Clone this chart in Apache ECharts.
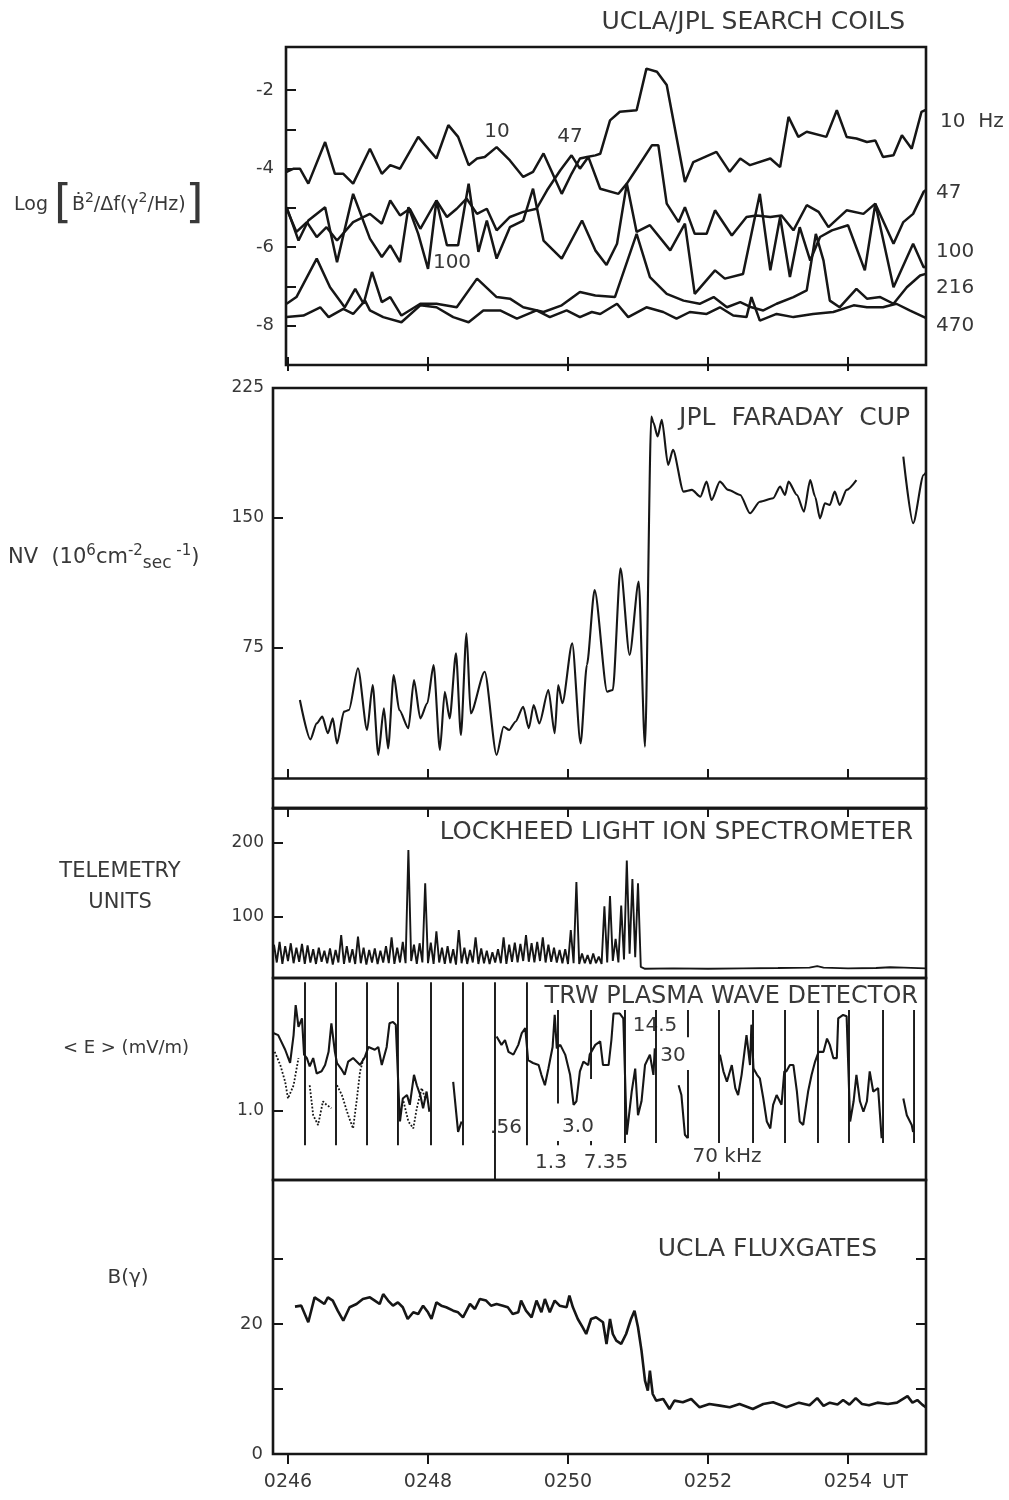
<!DOCTYPE html>
<html>
<head>
<meta charset="utf-8">
<script src="https://cdn.jsdelivr.net/npm/echarts@6.0.0/dist/echarts.min.js"></script>
<style>
  html, body { margin: 0; padding: 0; background: #ffffff; }
  #chart { width: 1009px; height: 1500px; }
</style>
</head>
<body>
<div id="chart"></div>
<script>
// Time is given in minutes after 02:00 UT (46.0 = 0246 UT).
const T_END = 55.114;
const TIME_TICKS = [46, 48, 50, 52, 54];

// ---- UCLA/JPL search coils: log spectral density per channel ----
const coil10 = [
  [45.98,-4.08],[46.08,-4.00],[46.17,-4.00],[46.29,-4.38],[46.53,-3.32],[46.67,-4.13],[46.79,-4.13],[46.93,-4.38],
  [47.17,-3.49],[47.34,-4.13],[47.46,-3.91],[47.60,-4.00],[47.86,-3.19],[48.12,-3.74],[48.29,-2.89],[48.43,-3.19],
  [48.58,-3.91],[48.70,-3.74],[48.81,-3.70],[48.98,-3.45],[49.17,-3.79],[49.36,-4.21],[49.50,-4.08],[49.65,-3.61],
  [49.91,-4.64],[50.05,-4.13],[50.17,-3.74],[50.27,-3.70],[50.39,-3.66],[50.46,-3.62],[50.60,-2.77],[50.74,-2.55],
  [50.98,-2.51],[51.12,-1.45],[51.27,-1.53],[51.41,-1.87],[51.67,-4.34],[51.79,-3.83],[52.12,-3.57],[52.31,-4.08],
  [52.46,-3.74],[52.60,-3.91],[52.89,-3.74],[53.03,-3.96],[53.15,-2.68],[53.29,-3.19],[53.41,-3.06],[53.69,-3.19],
  [53.84,-2.51],[53.98,-3.19],[54.12,-3.23],[54.27,-3.32],[54.39,-3.28],[54.50,-3.70],[54.65,-3.66],[54.77,-3.15],
  [54.91,-3.49],[55.05,-2.55],[55.11,-2.50]
];
const coil47 = [
  [45.98,-5.02],[46.12,-5.61],[46.27,-5.36],[46.41,-5.74],[46.55,-5.49],[46.70,-5.83],[46.93,-5.36],[47.17,-5.15],
  [47.34,-5.40],[47.46,-4.81],[47.60,-5.19],[47.74,-5.02],[47.89,-5.53],[48.12,-4.81],[48.27,-5.23],[48.41,-5.02],
  [48.55,-4.76],[48.70,-5.15],[48.84,-5.02],[48.98,-5.57],[49.17,-5.23],[49.36,-5.10],[49.55,-5.02],[49.70,-4.55],
  [49.89,-4.04],[50.05,-3.66],[50.17,-4.00],[50.29,-3.70],[50.46,-4.51],[50.72,-4.64],[50.84,-4.38],[50.98,-4.00],
  [51.20,-3.40],[51.29,-3.40],[51.41,-4.89],[51.58,-5.36],[51.67,-4.98],[51.81,-5.66],[51.98,-5.66],[52.10,-5.06],
  [52.34,-5.70],[52.55,-5.23],[52.69,-5.19],[52.89,-5.23],[53.05,-5.19],[53.22,-5.57],[53.41,-4.93],[53.58,-5.10],
  [53.72,-5.49],[53.98,-5.06],[54.22,-5.15],[54.39,-4.89],[54.65,-5.91],[54.79,-5.36],[54.93,-5.15],[55.08,-4.59],
  [55.11,-4.55]
];
const coil100 = [
  [45.98,-4.98],[46.15,-5.83],[46.29,-5.32],[46.53,-4.98],[46.70,-6.38],[46.93,-4.64],[47.17,-5.78],[47.34,-6.25],
  [47.46,-5.95],[47.60,-6.38],[47.72,-4.98],[47.86,-5.66],[48.00,-6.55],[48.12,-4.81],[48.27,-5.95],[48.43,-5.95],
  [48.58,-4.38],[48.72,-6.12],[48.84,-5.32],[48.98,-6.29],[49.17,-5.49],[49.36,-5.32],[49.50,-4.51],[49.65,-5.83],
  [49.91,-6.29],[50.20,-5.32],[50.39,-6.08],[50.55,-6.45],[50.70,-5.91],[50.84,-4.38],[50.98,-5.61],[51.17,-5.44],
  [51.46,-6.08],[51.67,-5.40],[51.81,-7.19],[52.10,-6.59],[52.24,-6.80],[52.50,-6.68],[52.74,-4.64],[52.89,-6.59],
  [53.03,-5.23],[53.17,-6.76],[53.31,-5.49],[53.46,-6.34],[53.60,-5.74],[53.77,-5.57],[54.00,-5.44],[54.24,-6.59],
  [54.39,-4.89],[54.65,-7.02],[54.93,-5.91],[55.08,-6.51],[55.11,-6.50]
];
const coil216 = [
  [45.98,-7.44],[46.12,-7.27],[46.41,-6.29],[46.60,-7.02],[46.81,-7.53],[46.96,-7.06],[47.08,-7.44],[47.20,-6.63],
  [47.34,-7.40],[47.46,-7.27],[47.62,-7.74],[47.89,-7.44],[48.12,-7.44],[48.41,-7.53],[48.70,-6.80],[48.98,-7.27],
  [49.17,-7.31],[49.36,-7.53],[49.65,-7.65],[49.91,-7.48],[50.17,-7.14],[50.39,-7.23],[50.67,-7.27],[50.98,-5.66],
  [51.17,-6.76],[51.41,-7.19],[51.65,-7.36],[51.88,-7.44],[52.08,-7.27],[52.27,-7.53],[52.46,-7.40],[52.62,-7.53],
  [52.79,-7.61],[52.98,-7.44],[53.22,-7.27],[53.41,-7.10],[53.54,-5.66],[53.65,-6.34],[53.74,-7.36],[53.88,-7.53],
  [54.12,-7.06],[54.27,-7.31],[54.46,-7.27],[54.65,-7.44],[54.84,-7.02],[55.03,-6.72],[55.11,-6.68]
];
const coil470 = [
  [45.98,-7.78],[46.22,-7.74],[46.46,-7.53],[46.58,-7.78],[46.79,-7.57],[46.93,-7.70],[47.10,-7.36],[47.17,-7.61],
  [47.36,-7.78],[47.62,-7.91],[47.89,-7.48],[48.12,-7.53],[48.36,-7.78],[48.58,-7.91],[48.79,-7.61],[49.03,-7.61],
  [49.27,-7.82],[49.55,-7.61],[49.74,-7.78],[49.98,-7.61],[50.17,-7.78],[50.34,-7.65],[50.46,-7.70],[50.70,-7.44],
  [50.86,-7.78],[51.12,-7.53],[51.36,-7.65],[51.55,-7.82],[51.74,-7.65],[51.98,-7.70],[52.17,-7.53],[52.36,-7.74],
  [52.55,-7.78],[52.62,-7.27],[52.74,-7.87],[52.98,-7.70],[53.22,-7.78],[53.50,-7.70],[53.79,-7.65],[54.08,-7.48],
  [54.27,-7.53],[54.50,-7.53],[54.69,-7.44],[54.88,-7.61],[55.11,-7.80]
];

// ---- JPL Faraday cup: flux NV (10^6 cm^-2 s^-1); '-' marks a data gap ----
const faraday = [
  [46.17,45.0],[46.32,22.3],[46.41,31.5],[46.49,35.4],[46.57,25.8],[46.64,34.4],[46.70,20.0],[46.80,38.3],
  [46.87,39.2],[47.00,63.3],[47.13,27.7],[47.21,53.7],[47.29,13.3],[47.37,40.2],[47.43,17.1],[47.51,59.4],
  [47.59,39.2],[47.72,28.7],[47.80,56.5],[47.89,34.4],[47.99,43.1],[48.08,65.2],[48.17,16.2],[48.24,49.8],
  [48.31,34.4],[48.40,71.9],[48.47,24.8],[48.55,83.5],[48.61,37.3],[48.81,61.3],[48.98,13.3],[49.08,29.6],
  [49.16,27.7],[49.25,32.5],[49.36,41.1],[49.44,28.7],[49.51,42.1],[49.59,31.5],[49.72,50.8],[49.81,25.8],
  [49.86,53.7],[49.92,43.1],[50.06,77.7],[50.18,20.0],[50.27,65.2],[50.38,108.5],[50.56,49.8],[50.64,50.8],
  [50.75,121.0],[50.88,71.0],[51.01,113.3],[51.10,18.1],[51.19,208.5],[51.22,205.0],[51.28,197.0],[51.34,206.6],
  [51.43,180.6],[51.50,189.3],[51.65,165.2],[51.77,166.2],[51.89,162.3],[51.98,171.0],[52.05,160.4],[52.17,171.0],
  [52.29,166.2],[52.46,163.3],[52.60,152.7],[52.74,159.4],[52.93,161.4],[53.03,168.1],[53.10,163.3],[53.15,171.0],
  [53.27,163.3],[53.37,153.7],[53.46,171.9],[53.53,162.3],[53.60,149.8],[53.67,158.5],[53.74,157.5],[53.81,165.2],
  [53.88,157.5],[53.98,166.2],[54.12,171.9],[54.12,'-'],[54.79,185.4],[54.93,147.0],[55.08,174.8],[55.11,176.0]
];

// ---- Lockheed light ion spectrometer: telemetry counts ----
const ION_T0 = 45.80;   // first sample, min
const ION_DT = 0.04;    // sample spacing, min
const ionCounts = [
  62,38,66,36,60,40,64,37,58,39,63,36,61,38,56,36,58,39,54,37,
  57,35,55,38,75,36,60,38,56,36,73,37,58,35,55,38,57,36,54,38,
  60,37,72,36,58,38,66,37,190,40,62,36,64,38,145,37,65,36,80,38,
  58,36,60,37,56,35,82,37,58,36,55,38,72,36,57,37,54,36,52,38,
  56,37,72,36,62,39,65,38,63,40,75,39,64,38,66,40,72,38,62,39,
  58,38,55,37,56,36,82,37,147,36,50,37,48,36,50,37,46,36,114,38,
  128,40,70,38,115,42,176,50,151,45,145,32
];
const ionAfter = [
  [51.10,29.5],[51.50,30.0],[52.00,29.5],[52.50,30.0],[53.00,30.5],[53.45,31.0],[53.56,33.0],[53.65,31.0],
  [54.00,30.0],[54.40,30.5],[54.60,31.5],[54.80,31.0],[55.11,30.0]
];

// ---- TRW plasma wave detector: <E> per swept channel ----
// channel switch marks: [time, upper end, lower end]
const pwdSwitches = [
  [46.243,2.84,0.50],[46.686,2.84,0.50],[47.129,2.84,0.50],[47.571,2.84,0.50],[48.043,2.84,0.50],
  [48.500,2.84,0.50],[48.957,2.84,0.00],[49.414,2.84,0.50],[49.857,2.44,1.10],[49.857,0.56,0.50],
  [50.329,2.44,1.45],[50.329,0.56,0.50],[50.814,2.44,0.53],[51.257,2.44,0.53],[51.714,2.44,2.05],
  [51.714,1.58,0.60],[52.157,2.44,0.53],[52.157,0.12,0.00],[52.643,2.44,0.53],[53.100,2.44,0.53],
  [53.571,2.44,0.53],[54.014,2.44,0.53],[54.500,2.44,0.53],[54.943,2.44,0.53]
];
const pwdField = [
  [45.79,2.11],[45.86,2.08],[45.96,1.87],[46.03,1.68],[46.08,2.08],[46.11,2.51],[46.15,2.20],[46.20,2.32],[46.23,1.80],
  [46.27,1.75],[46.31,1.63],[46.36,1.75],[46.41,1.53],[46.48,1.56],[46.53,1.65],[46.58,1.84],[46.62,2.25],[46.67,1.84],
  [46.70,1.68],[46.77,1.58],[46.81,1.51],[46.86,1.70],[46.93,1.75],[47.03,1.65],[47.10,1.77],
  [47.15,1.91],[47.24,1.87],[47.29,1.91],[47.34,1.65],[47.41,1.91],[47.45,2.25],[47.50,2.27],[47.54,2.23],
  [47.58,1.27],[47.60,0.84],[47.64,1.17],[47.70,1.22],[47.74,1.08],[47.80,1.51],[47.84,1.36],[47.89,1.22],
  [47.93,1.03],[47.98,1.27],[48.02,0.98],[48.02,'-'],
  [48.36,1.41],[48.43,0.69],[48.48,0.84],[48.48,'-'],
  [48.98,2.06],[49.05,1.94],[49.10,2.01],[49.15,1.84],[49.22,1.80],[49.29,1.94],[49.34,2.11],[49.39,2.18],
  [49.43,1.72],[49.50,1.68],[49.58,1.65],[49.62,1.51],[49.67,1.36],[49.72,1.60],[49.78,1.91],[49.81,2.37],[49.84,1.89],
  [49.89,1.94],[49.96,1.80],[50.03,1.51],[50.08,1.08],[50.12,1.13],[50.17,1.56],[50.22,1.70],[50.29,1.65],[50.31,1.80],
  [50.39,1.94],[50.46,1.99],[50.50,1.65],[50.58,1.65],[50.62,2.01],[50.65,2.39],[50.74,2.39],[50.79,2.32],
  [50.84,0.65],[50.91,1.27],[50.96,1.60],[51.00,0.93],[51.05,1.13],[51.10,1.65],[51.17,1.80],[51.22,1.51],[51.24,1.89],
  [51.24,'-'],
  [51.58,1.36],[51.62,1.22],[51.67,0.65],[51.71,0.60],[51.71,'-'],
  [52.17,1.80],[52.22,1.56],[52.27,1.41],[52.34,1.65],[52.39,1.32],[52.43,1.22],[52.48,1.51],[52.55,2.08],[52.60,1.65],[52.62,2.23],
  [52.65,1.60],[52.70,1.51],[52.74,1.46],[52.79,1.17],[52.84,0.84],[52.89,0.74],[52.93,1.08],[52.98,1.22],[53.05,1.08],[53.09,1.56],
  [53.12,1.56],[53.17,1.65],[53.22,1.65],[53.27,1.27],[53.31,0.84],[53.36,0.79],[53.43,1.27],[53.48,1.51],[53.53,1.70],
  [53.58,1.84],[53.65,1.84],[53.70,2.03],[53.74,1.94],[53.79,1.75],[53.84,1.75],[53.86,2.32],[53.93,2.37],[53.98,2.35],
  [54.03,0.84],[54.08,1.13],[54.12,1.51],[54.17,1.13],[54.22,0.98],[54.27,1.13],[54.31,1.56],[54.36,1.27],[54.43,1.32],[54.48,0.60],
  [54.48,'-'],
  [54.79,1.17],[54.84,0.93],[54.91,0.79],[54.93,0.69]
];
const pwdSecond = [
  [45.81,1.84],[45.89,1.65],[45.96,1.41],[46.00,1.17],[46.08,1.36],[46.15,1.75],[46.15,'-'],
  [46.31,1.36],[46.36,0.93],[46.43,0.79],[46.50,1.13],[46.55,1.08],[46.62,1.03],[46.62,'-'],
  [46.70,1.36],[46.77,1.22],[46.86,0.93],[46.93,0.74],[46.98,1.13],[47.03,1.56],[47.08,1.75],[47.08,'-'],
  [47.65,1.13],[47.72,0.84],[47.79,0.74],[47.84,1.03],[47.91,1.32],[47.96,1.17]
];

// ---- UCLA fluxgates: field magnitude B (gamma) ----
const fluxB = [
  [46.10,22.67],[46.19,22.82],[46.29,20.26],[46.38,24.10],[46.45,23.60],[46.52,23.08],[46.57,24.10],[46.64,23.60],
  [46.71,22.05],[46.79,20.50],[46.88,22.57],[46.98,23.08],[47.07,23.85],[47.17,24.10],[47.24,23.60],[47.31,23.08],
  [47.36,24.60],[47.43,23.60],[47.50,22.82],[47.57,23.33],[47.64,22.57],[47.71,20.77],[47.79,21.80],[47.86,21.54],
  [47.93,22.82],[48.00,21.80],[48.05,20.77],[48.12,23.33],[48.19,22.82],[48.26,22.57],[48.36,22.05],[48.43,21.80],
  [48.50,21.03],[48.60,23.08],[48.67,22.31],[48.74,23.85],[48.83,23.60],[48.90,22.82],[48.98,23.08],[49.07,22.82],
  [49.14,22.57],[49.21,21.54],[49.29,21.80],[49.33,23.60],[49.40,22.05],[49.48,21.03],[49.55,23.60],[49.62,21.80],
  [49.67,23.85],[49.74,21.80],[49.81,23.60],[49.88,22.82],[49.98,22.57],[50.02,24.36],[50.07,22.57],[50.14,20.77],
  [50.21,19.49],[50.26,18.46],[50.33,20.77],[50.40,21.03],[50.50,20.26],[50.55,16.93],[50.60,20.77],[50.64,18.46],
  [50.69,17.44],[50.76,16.93],[50.83,18.46],[50.90,20.77],[50.95,22.05],[51.00,19.49],[51.05,15.90],[51.10,11.28],
  [51.14,9.74],[51.17,12.82],[51.21,9.23],[51.26,8.21],[51.36,8.46],[51.45,6.92],[51.52,8.21],[51.64,7.95],
  [51.76,8.46],[51.88,7.18],[52.02,7.69],[52.17,7.44],[52.31,7.18],[52.45,7.69],[52.64,6.92],[52.79,7.69],
  [52.93,7.95],[53.12,7.18],[53.30,7.90],[53.45,7.50],[53.56,8.60],[53.65,7.40],[53.74,7.90],[53.85,7.60],
  [53.93,8.30],[54.02,7.60],[54.11,8.60],[54.20,7.70],[54.30,7.50],[54.42,7.90],[54.57,7.70],[54.70,7.90],
  [54.85,8.90],[54.92,7.90],[54.99,8.30],[55.06,7.60],[55.11,7.20]
];

// ---- tick labels ----
const coilTicks = [-8, -7, -6, -5, -4, -3, -2];
const coilLabels = [-8, -6, -4, -2];
const nvTicks = [75, 150];
const nvLabels = [75, 150, 225];
const ionTicks = [100, 200];
const eTicks = [1];
const bTicks = [10, 20, 30];
const bLabels = [0, 20];

// ---------------------------------------------------------------
const INK = '#161616';
const TXT = '#383838';
const FONT = "'DejaVu Sans', 'Liberation Sans', sans-serif";

const ionSeries = ionCounts.map((v, i) => [+(ION_T0 + i * ION_DT).toFixed(2), v]).concat(ionAfter);
const switchSeries = [];
pwdSwitches.forEach(([t, hi, lo]) => { switchSeries.push([t, hi], [t, lo], [t, '-']); });

const box = { show: true, borderColor: INK, borderWidth: 2.6, backgroundColor: 'transparent', containLabel: false, outerBoundsMode: 'none' };
const grids = [
  Object.assign({ left: 286, top: 47, width: 640, height: 318 }, box),
  Object.assign({ left: 273, top: 388, width: 653, height: 420 }, box),
  Object.assign({ left: 273, top: 808, width: 653, height: 170 }, box),
  Object.assign({ left: 273, top: 978, width: 653, height: 202 }, box),
  Object.assign({ left: 273, top: 1180, width: 653, height: 274 }, box)
];

const tickStyle = { color: INK, width: 2 };
function timeAxis(gridIndex, min, extra) {
  return Object.assign({
    type: 'value', gridIndex, min, max: T_END, position: 'bottom',
    axisLine: { show: false, onZero: false },
    axisTick: { show: false },
    axisLabel: { show: false },
    splitLine: { show: false }
  }, extra || {});
}
function valueAxis(gridIndex, min, max, ticks, labels, extra) {
  return Object.assign({
    type: 'value', gridIndex, min, max, position: 'left',
    axisLine: { show: false },
    splitLine: { show: false },
    axisTick: { show: true, inside: true, length: 10, customValues: ticks, lineStyle: tickStyle },
    axisLabel: labels ? { show: true, customValues: labels, fontSize: 17, fontFamily: FONT, color: TXT, margin: 9 } : { show: false }
  }, extra || {});
}

const xAxes = [
  timeAxis(0, 45.971, { axisTick: { show: true, inside: true, length: 8, customValues: TIME_TICKS, lineStyle: tickStyle } }),
  timeAxis(1, 45.786, {
    axisLine: { show: true, onZero: true, lineStyle: { color: INK, width: 2.6 } },
    axisTick: { show: true, inside: true, length: 9, customValues: TIME_TICKS, lineStyle: tickStyle }
  }),
  timeAxis(2, 45.786),
  timeAxis(3, 45.786),
  timeAxis(4, 45.786, {
    axisTick: { show: true, inside: false, length: 10, customValues: TIME_TICKS, lineStyle: tickStyle },
    axisLabel: { show: true, customValues: TIME_TICKS, formatter: v => '02' + v, margin: 19,
                 fontSize: 19, fontFamily: FONT, color: TXT }
  }),
  timeAxis(0, 45.971, { axisTick: { show: true, inside: false, length: 6, customValues: TIME_TICKS, lineStyle: tickStyle } }),
  timeAxis(1, 45.786, {
    axisLine: { show: true, onZero: true, lineStyle: { color: INK, width: 2.6 } },
    axisTick: { show: true, inside: false, length: 9, customValues: TIME_TICKS, lineStyle: tickStyle }
  })
];

const yAxes = [
  valueAxis(0, -9, -0.9, coilTicks, coilLabels, { axisLabel: { show: true, customValues: coilLabels, fontSize: 18, fontFamily: FONT, color: TXT, margin: 12 } }),
  valueAxis(1, -17.3, 225, nvTicks, nvLabels),
  valueAxis(2, 17, 247, ionTicks, ionTicks),
  valueAxis(3, 0, 2.9, eTicks, eTicks, { axisLabel: { show: true, customValues: eTicks, formatter: v => v.toFixed(1), fontSize: 17, fontFamily: FONT, color: TXT, margin: 9 } }),
  valueAxis(4, 0, 42.15, bTicks, bLabels, { axisLabel: { show: true, customValues: bLabels, fontSize: 18, fontFamily: FONT, color: TXT, margin: 10 } }),
  valueAxis(4, 0, 42.15, bTicks, null, { position: 'right' })
];

function trace(name, data, xi, yi, width, extra) {
  return Object.assign({
    name, type: 'line', xAxisIndex: xi, yAxisIndex: yi, data,
    symbol: 'none', connectNulls: false, animation: false,
    lineStyle: { color: INK, width }
  }, extra || {});
}

const series = [
  trace('10 Hz', coil10, 0, 0, 2.5),
  trace('47 Hz', coil47, 0, 0, 2.5),
  trace('100 Hz', coil100, 0, 0, 2.5),
  trace('216 Hz', coil216, 0, 0, 2.5),
  trace('470 Hz', coil470, 0, 0, 2.5),
  trace('NV', faraday, 1, 1, 2.1, { smooth: 0.25, smoothMonotone: 'x' }),
  trace('Light ions', ionSeries, 2, 2, 1.9),
  trace('Channel switch', switchSeries, 3, 3, 1.9),
  trace('<E>', pwdField, 3, 3, 2.1),
  trace('<E> second', pwdSecond, 3, 3, 1.8, { lineStyle: { color: INK, width: 1.8, type: 'dotted' } }),
  trace('B', fluxB, 4, 4, 2.6)
];

function label(text, x, y, size, align, extra) {
  return Object.assign({
    type: 'text', x, y, silent: true,
    style: {
      text, fontSize: size, fontFamily: FONT, fill: TXT,
      align: align || 'left', textAlign: align || 'left',
      verticalAlign: 'middle', textVerticalAlign: 'middle'
    }
  }, extra || {});
}

const coilAxisName = {
  type: 'text', x: 14, y: 205, silent: true,
  style: {
    text: '{a|Log }{b|[}{c|Ḃ}{s|2}{c|/Δf(γ}{s|2}{c|/Hz)}{b|]}',
    fontFamily: FONT, fill: TXT, verticalAlign: 'middle', textVerticalAlign: 'middle',
    rich: {
      a: { fontSize: 19, fontFamily: FONT, fill: TXT, lineHeight: 28 },
      c: { fontSize: 19, fontFamily: FONT, fill: TXT, lineHeight: 28 },
      b: { fontSize: 46, fontFamily: FONT, fill: TXT, lineHeight: 28 },
      s: { fontSize: 14, fontFamily: FONT, fill: TXT, lineHeight: 16, verticalAlign: 'top' }
    }
  }
};
const nvAxisName = {
  type: 'text', x: 8, y: 558, silent: true,
  style: {
    text: '{a|NV  (10}{s|6}{a|cm}{s|-2}{d|sec}{s| -1}{a|)}',
    fontFamily: FONT, fill: TXT, verticalAlign: 'middle', textVerticalAlign: 'middle',
    rich: {
      a: { fontSize: 21, fontFamily: FONT, fill: TXT, lineHeight: 28 },
      s: { fontSize: 15, fontFamily: FONT, fill: TXT, lineHeight: 16, verticalAlign: 'top' },
      d: { fontSize: 17, fontFamily: FONT, fill: TXT, lineHeight: 20, verticalAlign: 'bottom' }
    }
  }
};

const graphics = [
  // instrument titles
  label('UCLA/JPL SEARCH COILS', 905, 22, 25, 'right'),
  label('JPL  FARADAY  CUP', 910, 418, 25, 'right'),
  label('LOCKHEED LIGHT ION SPECTROMETER', 913, 833, 24.5, 'right'),
  label('TRW PLASMA WAVE DETECTOR', 918, 997, 24, 'right'),
  label('UCLA FLUXGATES', 877, 1249, 25, 'right'),
  // search-coil channel labels
  label('10', 497, 132, 20, 'center'),
  label('47', 570, 137, 20, 'center'),
  label('100', 452, 263, 20, 'center'),
  label('10  Hz', 940, 122, 20, 'left'),
  label('47', 936, 193, 20, 'left'),
  label('100', 936, 252, 20, 'left'),
  label('216', 936, 288, 20, 'left'),
  label('470', 936, 326, 20, 'left'),
  // plasma wave channel frequencies
  label('.56', 506, 1128, 20, 'center'),
  label('3.0', 578, 1127, 20, 'center'),
  label('1.3', 551, 1163, 20, 'center'),
  label('7.35', 606, 1163, 20, 'center'),
  label('14.5', 655, 1026, 20, 'center'),
  label('30', 673, 1056, 20, 'center'),
  label('70 kHz', 727, 1157, 20, 'center'),
  // quantity names
  coilAxisName,
  nvAxisName,
  label('TELEMETRY', 120, 872, 21, 'center'),
  label('UNITS', 120, 903, 21, 'center'),
  label('< E > (mV/m)', 126, 1048, 18, 'center'),
  label('B(γ)', 128, 1278, 20, 'center'),
  label('UT', 895, 1483, 19, 'center')
];

const chart = echarts.init(document.getElementById('chart'), null, { renderer: 'canvas', width: 1009, height: 1500 });
chart.setOption({
  backgroundColor: '#ffffff',
  animation: false,
  grid: grids,
  xAxis: xAxes,
  yAxis: yAxes,
  series,
  graphic: { elements: graphics }
});
</script>
</body>
</html>
